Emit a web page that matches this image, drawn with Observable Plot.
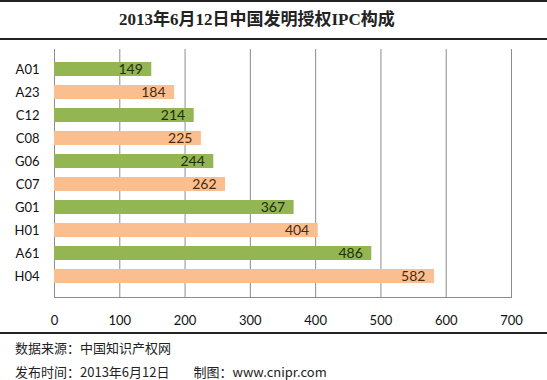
<!DOCTYPE html>
<html><head><meta charset="utf-8">
<script src="https://cdn.jsdelivr.net/npm/d3@7"></script>
<script src="https://cdn.jsdelivr.net/npm/@observablehq/plot@0.6"></script>
<style>
body{margin:0;background:#fff;width:547px;height:380px;overflow:hidden;position:relative;font-family:"Noto Sans CJK SC",sans-serif;}
#title{position:absolute;left:0;top:0;width:547px;height:36px;border-top:2px solid #222;border-bottom:2px solid #222;}
#title span{position:absolute;left:119px;top:8px;font-family:"Liberation Serif","Noto Sans CJK SC",serif;font-weight:bold;font-size:17px;color:#222;white-space:nowrap;line-height:20px;}
#chart{position:absolute;left:0;top:40px;}
#foot{position:absolute;left:0;top:332px;width:547px;border-top:2px solid #222;}
.fl{position:absolute;left:15px;font-size:13px;color:#222;white-space:nowrap;line-height:16px;}
</style></head><body>
<div id="title"><span>2013年6月12日中国发明授权IPC构成</span></div>
<div id="chart"></div>
<div id="foot">
<div class="fl" style="top:6px">数据来源：中国知识产权网</div>
<div class="fl" style="top:30px">发布时间：2013年6月12日<span style="margin-left:24px">制图：www.cnipr.com</span></div>
</div>
<script>
const categories = ["A01","A23","C12","C08","G06","C07","G01","H01","A61","H04"];
const values = [149,184,214,225,244,262,367,404,486,582];
const xTicks = [0,100,200,300,400,500,600,700];

const green = "#93b552", peach = "#fbbf8f";
const data = categories.map((c,i)=>({cat:c, val:values[i], idx:i}));

const plot = Plot.plot({
  width: 547, height: 293,
  marginLeft: 54, marginRight: 36, marginTop: 9, marginBottom: 36,
  style: {fontFamily: "Lato, sans-serif", fontSize: "13px", color: "#111", background: "transparent"},
  x: {domain: [0,700], ticks: xTicks, label: null, tickSize: 0, tickPadding: 18, tickFormat: d=>String(d)},
  y: {domain: categories, label: null, tickSize: 0, tickPadding: 15, padding: 0.37},
  marks: [
    Plot.gridX(xTicks, {stroke: "#8c8c8c", strokeOpacity: 1}),
    Plot.frame({anchor: "bottom", stroke: "#8c8c8c"}),
    Plot.barX(data, {x: "val", y: "cat", fill: d => d.idx % 2 ? peach : green}),
    Plot.text(data, {x: "val", y: "cat", text: d => String(d.val), textAnchor: "end", dx: -9,
      fill: d => d.idx % 2 ? "#4a2a12" : "#1f2e0c", fontSize: 14})
  ]
});
document.getElementById("chart").appendChild(plot);
</script>
</body></html>
